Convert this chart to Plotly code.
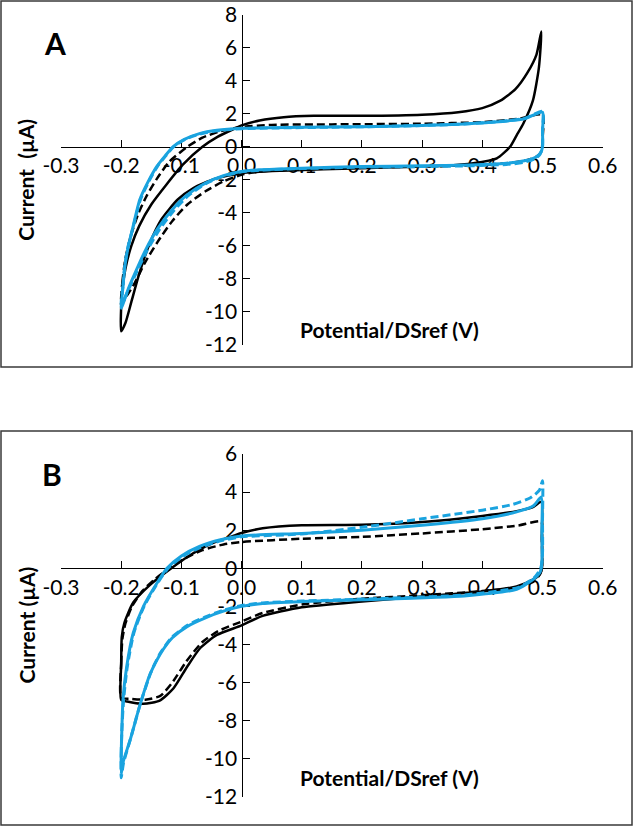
import plotly.graph_objects as go

# ---------------- DATA ----------------
X_TICKS = [-0.3, -0.2, -0.1, 0.0, 0.1, 0.2, 0.3, 0.4, 0.5, 0.6]
X_TICK_TEXT = ["-0.3", "-0.2", "-0.1", "0.0", "0.1", "0.2", "0.3", "0.4", "0.5", "0.6"]
Y_TICKS_A = [-12, -10, -8, -6, -4, -2, 0, 2, 4, 6, 8]
Y_TICK_TEXT_A = ["-12", "-10", "-8", "-6", "-4", "-2", "0", "2", "4", "6", "8"]
Y_TICKS_B = [-12, -10, -8, -6, -4, -2, 0, 2, 4, 6]
Y_TICK_TEXT_B = ["-12", "-10", "-8", "-6", "-4", "-2", "0", "2", "4", "6"]

# Panel A
A_BLACK_SOLID_V = [-0.200, -0.199, -0.193, -0.183, -0.170, -0.150, -0.125, -0.098, -0.065, -0.040, -0.015, 0.000,
                   0.030, 0.070, 0.120, 0.200, 0.300, 0.360, 0.400, 0.430, 0.455, 0.475, 0.490, 0.498,
                   0.494, 0.484, 0.468, 0.457, 0.446, 0.424, 0.385, 0.336, 0.200, 0.068, 0.000, -0.045,
                   -0.080, -0.106, -0.133, -0.153, -0.170, -0.183, -0.193, -0.200]
A_BLACK_SOLID_I = [-11.2, -9.0, -7.4, -6.0, -4.8, -3.5, -2.3, -1.1, 0.0, 0.6, 1.05, 1.3,
                   1.6, 1.8, 1.88, 1.88, 1.95, 2.1, 2.35, 2.8, 3.5, 4.5, 5.6, 7.0,
                   4.8, 2.8, 1.4, 0.7, 0.0, -0.7, -1.0, -1.15, -1.3, -1.45, -1.6, -1.95,
                   -2.5, -3.2, -4.4, -5.9, -7.7, -9.4, -10.7, -11.2]

A_BLACK_DASH_V = [-0.200, -0.198, -0.193, -0.184, -0.172, -0.158, -0.140, -0.120, -0.090, -0.065, -0.035, 0.000,
                  0.050, 0.150, 0.300, 0.400, 0.460, 0.500,
                  0.500, 0.498, 0.490, 0.470, 0.440, 0.400, 0.300, 0.200, 0.100, 0.030, 0.000, -0.030,
                  -0.060, -0.090, -0.115, -0.140, -0.160, -0.178, -0.190, -0.200]
A_BLACK_DASH_I = [-9.6, -8.2, -6.8, -5.4, -4.1, -3.0, -1.9, -0.9, 0.0, 0.55, 0.95, 1.2,
                  1.33, 1.36, 1.4, 1.5, 1.7, 1.95,
                  0.5, -0.3, -0.6, -0.85, -1.0, -1.1, -1.2, -1.25, -1.35, -1.5, -1.7, -2.1,
                  -2.7, -3.5, -4.5, -5.8, -7.0, -8.3, -9.0, -9.6]

A_BLUE_SOLID_V = [-0.200, -0.197, -0.194, -0.189, -0.182, -0.169, -0.155, -0.141, -0.127, -0.114, -0.095, -0.070,
                  -0.041, 0.000, 0.050, 0.150, 0.250, 0.350, 0.420, 0.470, 0.500,
                  0.500, 0.500, 0.497, 0.490, 0.470, 0.440, 0.380, 0.300, 0.200, 0.100, 0.030, 0.000,
                  -0.030, -0.060, -0.090, -0.115, -0.140, -0.160, -0.175, -0.188, -0.200]
A_BLUE_SOLID_I = [-9.8, -8.5, -7.3, -6.2, -5.1, -3.2, -2.1, -1.2, -0.55, 0.0, 0.45, 0.8,
                  1.0, 1.12, 1.16, 1.2, 1.25, 1.35, 1.5, 1.7, 2.1,
                  1.0, 0.0, -0.35, -0.6, -0.85, -1.0, -1.1, -1.15, -1.2, -1.3, -1.4, -1.5,
                  -1.75, -2.2, -2.9, -3.8, -5.0, -6.3, -7.5, -8.6, -9.8]

A_BLUE_DASH_V = [-0.200, -0.197, -0.194, -0.189, -0.181, -0.168, -0.154, -0.140, -0.126, -0.113, -0.094, -0.069,
                 -0.040, 0.000, 0.050, 0.150, 0.250, 0.350, 0.420, 0.470, 0.500,
                 0.500, 0.500, 0.496, 0.488, 0.468, 0.440, 0.380, 0.300, 0.200, 0.100, 0.030, 0.000,
                 -0.030, -0.060, -0.088, -0.112, -0.136, -0.157, -0.173, -0.187, -0.200]
A_BLUE_DASH_I = [-9.6, -8.4, -7.2, -6.1, -5.0, -3.2, -2.1, -1.2, -0.55, 0.0, 0.45, 0.78,
                 0.98, 1.1, 1.14, 1.19, 1.25, 1.35, 1.5, 1.72, 2.15,
                 1.0, 0.0, -0.45, -0.72, -0.95, -1.07, -1.15, -1.2, -1.24, -1.32, -1.42, -1.52,
                 -1.78, -2.25, -2.95, -3.85, -5.0, -6.3, -7.5, -8.6, -9.6]

# Panel B
B_BLACK_SOLID_V = [-0.200, -0.200, -0.199, -0.195, -0.180, -0.152, -0.119, -0.085, -0.050, -0.014, 0.000, 0.035,
                   0.100, 0.200, 0.300, 0.400, 0.457, 0.485, 0.498,
                   0.499, 0.499, 0.496, 0.484, 0.457, 0.400, 0.300, 0.200, 0.100, 0.035, 0.000, -0.041,
                   -0.069, -0.091, -0.113, -0.136, -0.163, -0.190, -0.200]
B_BLACK_SOLID_I = [-6.9, -5.0, -3.6, -2.9, -1.8, -0.87, -0.05, 0.7, 1.3, 1.7, 1.85, 2.1,
                   2.26, 2.28, 2.43, 2.75, 3.0, 3.22, 3.5,
                   1.8, 0.0, -0.3, -0.6, -0.96, -1.22, -1.48, -1.74, -2.05, -2.5, -3.0, -3.5,
                   -4.2, -5.2, -6.3, -6.95, -7.12, -7.0, -6.9]

B_BLACK_DASH_V = [-0.200, -0.200, -0.198, -0.193, -0.182, -0.165, -0.145, -0.120, -0.095, -0.065, -0.030, 0.000,
                  0.100, 0.200, 0.300, 0.400, 0.460, 0.498,
                  0.499, 0.499, 0.495, 0.485, 0.460, 0.400, 0.300, 0.200, 0.100, 0.035, 0.000, -0.039,
                  -0.066, -0.092, -0.115, -0.135, -0.160, -0.185, -0.200]
B_BLACK_DASH_I = [-6.8, -5.0, -3.7, -2.9, -2.0, -1.2, -0.6, 0.0, 0.5, 0.95, 1.25, 1.38,
                  1.55, 1.65, 1.83, 2.05, 2.25, 2.45,
                  1.5, 0.0, -0.35, -0.7, -1.0, -1.2, -1.42, -1.6, -1.9, -2.35, -2.8, -3.3,
                  -3.9, -4.9, -6.0, -6.7, -6.9, -6.85, -6.8]

B_BLUE_SOLID_V = [-0.200, -0.200, -0.199, -0.197, -0.191, -0.180, -0.163, -0.141, -0.124, -0.100, -0.070, -0.035,
                  0.000, 0.100, 0.200, 0.300, 0.400, 0.457, 0.485, 0.498,
                  0.499, 0.499, 0.496, 0.484, 0.457, 0.370, 0.200, 0.100, 0.035, 0.000, -0.030,
                  -0.060, -0.090, -0.115, -0.135, -0.152, -0.169, -0.185, -0.197, -0.200]
B_BLUE_SOLID_I = [-10.8, -9.8, -8.6, -6.9, -5.2, -3.4, -2.0, -0.8, 0.0, 0.65, 1.15, 1.5,
                  1.7, 1.83, 2.0, 2.26, 2.6, 2.96, 3.28, 3.74,
                  2.0, 0.3, -0.2, -0.6, -1.1, -1.45, -1.65, -1.75, -1.85, -2.0, -2.25,
                  -2.6, -3.05, -3.65, -4.5, -5.55, -7.2, -9.0, -10.2, -10.8]

B_BLUE_DASH_V = [-0.200, -0.200, -0.199, -0.196, -0.190, -0.179, -0.162, -0.140, -0.122, -0.098, -0.068, -0.033,
                 0.000, 0.100, 0.200, 0.300, 0.400, 0.450, 0.480, 0.495, 0.500,
                 0.500, 0.500, 0.497, 0.486, 0.460, 0.370, 0.200, 0.100, 0.035, 0.000, -0.030,
                 -0.060, -0.090, -0.115, -0.135, -0.151, -0.168, -0.184, -0.196, -0.200]
B_BLUE_DASH_I = [-11.0, -9.8, -8.6, -6.9, -5.2, -3.4, -2.0, -0.8, 0.0, 0.62, 1.1, 1.45,
                 1.65, 1.8, 2.15, 2.6, 3.05, 3.35, 3.7, 4.1, 4.6,
                 2.5, 0.8, 0.0, -0.5, -1.0, -1.4, -1.62, -1.72, -1.82, -1.95, -2.2,
                 -2.55, -3.0, -3.6, -4.45, -5.5, -7.1, -8.9, -10.2, -11.0]

# ---------------- LAYOUT ----------------
W, H = 634, 827
BLACK = "#000000"
BLUE = "#1AA3DF"
FONT = "Lato"

X_RANGE = [-0.3, 0.6]
A_RANGE = [-12, 8]
B_RANGE = [-12, 6]

x_dom = [61 / W, 602.7 / W]
a_dom = [1 - 344.5 / H, 1 - 15 / H]
b_dom = [1 - 796.8 / H, 1 - 454 / H]


def frac(val, rng, dom):
    return dom[0] + (val - rng[0]) / (rng[1] - rng[0]) * (dom[1] - dom[0])


fig = go.Figure()

styles = [
    (BLACK, "solid", 2.5),
    (BLACK, "8px,4px", 2.5),
    (BLUE, "8px,4px", 3),
    (BLUE, "solid", 3),
]

panels = [
    ("x", "y", [(A_BLACK_SOLID_V, A_BLACK_SOLID_I), (A_BLACK_DASH_V, A_BLACK_DASH_I),
                (A_BLUE_DASH_V, A_BLUE_DASH_I), (A_BLUE_SOLID_V, A_BLUE_SOLID_I)]),
    ("x2", "y2", [(B_BLACK_SOLID_V, B_BLACK_SOLID_I), (B_BLACK_DASH_V, B_BLACK_DASH_I),
                  (B_BLUE_DASH_V, B_BLUE_DASH_I), (B_BLUE_SOLID_V, B_BLUE_SOLID_I)]),
]

for xa, ya, series in panels:
    for (v, i), (col, dash, w) in zip(series, styles):
        fig.add_trace(go.Scatter(x=v, y=i, mode="lines", xaxis=xa, yaxis=ya,
                                 line=dict(color=col, dash=dash, width=w, shape="spline", smoothing=0.6),
                                 showlegend=False, hoverinfo="skip"))

axis_common = dict(showgrid=False, zeroline=False, showline=True, linecolor="#000000", linewidth=1.3,
                   ticks="inside", ticklen=7, tickwidth=1.3, tickcolor="#000000", automargin=False,
                   tickfont=dict(family=FONT, size=21, color="#000000"), layer="below traces")

fig.update_layout(
    template="none",
    width=W, height=H, margin=dict(l=0, r=0, t=0, b=0, pad=0, autoexpand=False),
    paper_bgcolor="white", plot_bgcolor="rgba(0,0,0,0)",
    xaxis=dict(domain=x_dom, range=X_RANGE, tickvals=X_TICKS, ticktext=X_TICK_TEXT,
               anchor="free", position=frac(0, A_RANGE, a_dom), **axis_common),
    yaxis=dict(domain=a_dom, range=A_RANGE, tickvals=Y_TICKS_A, ticktext=Y_TICK_TEXT_A,
               anchor="free", position=frac(0, X_RANGE, x_dom), **axis_common),
    xaxis2=dict(domain=x_dom, range=X_RANGE, tickvals=X_TICKS, ticktext=X_TICK_TEXT,
                anchor="free", position=frac(0, B_RANGE, b_dom), **axis_common),
    yaxis2=dict(domain=b_dom, range=B_RANGE, tickvals=Y_TICKS_B, ticktext=Y_TICK_TEXT_B,
                anchor="free", position=frac(0, X_RANGE, x_dom), **axis_common),
)

# panel borders
for y0, y1 in [(1 - 367 / H, 1 - 1 / H), (1 - 825 / H, 1 - 431 / H)]:
    fig.add_shape(type="rect", xref="paper", yref="paper", x0=1 / W, x1=632 / W, y0=y0, y1=y1,
                  line=dict(color="#3a3a3a", width=1.5), fillcolor="rgba(0,0,0,0)", layer="below")

title_font = dict(family=FONT, size=21, color="#000000")
ann = [
    dict(text="<b>A</b>", x=55 / W, y=1 - 42.5 / H, font=dict(family=FONT, size=30, color="#000000")),
    dict(text="<b>B</b>", x=52 / W, y=1 - 474 / H, font=dict(family=FONT, size=30, color="#000000")),
    dict(text="<b>Current  (µA)</b>", x=26 / W, y=(a_dom[0] + a_dom[1]) / 2, textangle=-90, font=title_font),
    dict(text="<b>Current (µA)</b>", x=26 / W, y=(b_dom[0] + b_dom[1]) / 2, textangle=-90, font=title_font),
    dict(text="<b>Potential/DSref (V)</b>", x=389 / W, y=1 - 329 / H, font=title_font),
    dict(text="<b>Potential/DSref (V)</b>", x=389 / W, y=1 - 777 / H, font=title_font),
]
for a in ann:
    fig.add_annotation(xref="paper", yref="paper", showarrow=False, xanchor="center", yanchor="middle", **a)

fig.write_html("out.html", config={"displayModeBar": False},
               post_script="document.body.style.margin='0';document.body.style.overflow='hidden';")
